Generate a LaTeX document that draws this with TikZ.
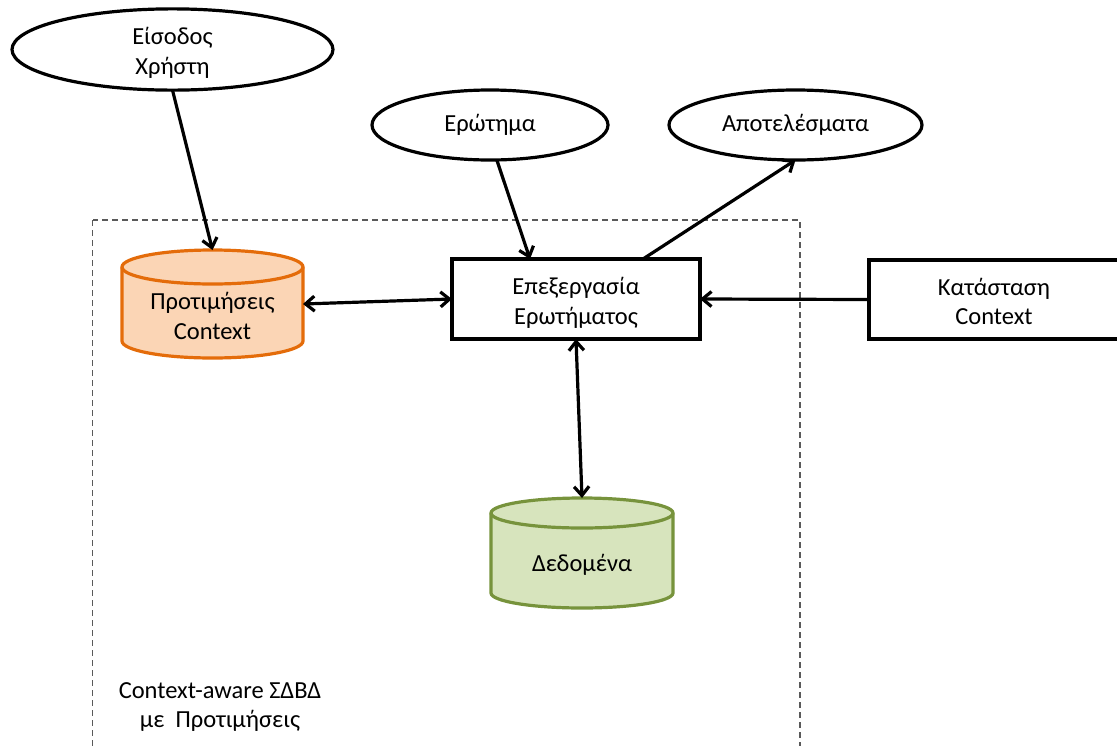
\documentclass[tikz,border=0pt]{standalone}
\usepackage{fontspec}
\setmainfont{Carlito}
\usetikzlibrary{shapes.geometric,arrows.meta,backgrounds}

\definecolor{prefline}{RGB}{228,108,10}
\definecolor{preffill}{RGB}{251,213,181}
\definecolor{dataline}{RGB}{119,147,60}
\definecolor{datafill}{RGB}{215,228,189}
\definecolor{frameline}{RGB}{89,89,89}

% invisible strut that adds room above the first text line
\newcommand\headroom[1]{\rule{0pt}{#1}}

% Database cylinder drawn inside the rectangle of a named node:
% #1 node, #2 fill, #3 line colour, #4 x radius, #5 y radius of the end ellipses
\newcommand\cylinderoutline[5]{%
  \path[fill=#2, draw=#3, line width=3.2pt]
    ([yshift=-#5pt]#1.north west) -- ([yshift=#5pt]#1.south west)
    arc[start angle=180, end angle=360, x radius=#4, y radius=#5]
    -- ([yshift=-#5pt]#1.north east)
    arc[start angle=0, end angle=180, x radius=#4, y radius=#5]
    -- cycle;
  \draw[#3, line width=3.2pt] ([yshift=-#5pt]#1.north west)
    arc[start angle=180, end angle=360, x radius=#4, y radius=#5];
}

\begin{document}
\begin{tikzpicture}[x=1pt, y=1pt,
  every node/.style={font=\fontsize{24.5}{29.5}\selectfont, align=center,
    inner sep=0pt, outer sep=0pt},
  oval/.style={ellipse, draw, line width=3.2pt, fill=white},
  procbox/.style={rectangle, draw, line width=3.2pt, fill=white},
  dbnode/.style={rectangle, draw=none},
  flow/.style={line width=3.2pt, -{Straight Barb[length=9pt, width=15pt]}},
  twoway/.style={line width=3.2pt,
    {Straight Barb[length=9pt, width=15pt]}-{Straight Barb[length=9pt, width=15pt]}},
  frame/.style={draw=frameline, line width=1.2pt, dash pattern=on 6pt off 4pt},
]
\useasboundingbox (0,0) rectangle (1117,-745);

% system boundary
\draw[frame] (92.5,-220) rectangle (800,-770);
\node (syslabel) at (220,-707) {Context-aware ΣΔΒΔ\\με\ \ Προτιμήσεις};

% inputs and outputs
\node[oval, minimum width=321, minimum height=79] (input) at (172.5,-49.5) {\headroom{24pt}Είσοδος\\Χρήστη};
\node[oval, minimum width=236, minimum height=70] (query) at (490,-125) {Ερώτημα};
\node[oval, minimum width=253, minimum height=70] (results) at (795.5,-125) {Αποτελέσματα};

% processing boxes
\node[procbox, minimum width=248, minimum height=80] (proc) at (576,-299) {\headroom{25pt}Επεξεργασία\\Ερωτήματος};
\node[procbox, minimum width=250, minimum height=79] (state) at (994,-299.5) {\headroom{21pt}Κατάσταση\\Context};

% stores
\node[dbnode, minimum width=181, minimum height=108,
  label={[yshift=-12pt]center:{Προτιμήσεις\\Context}}] (pref) at (212.5,-304) {};
\node[dbnode, minimum width=182, minimum height=110,
  label={[yshift=-12pt]center:{Δεδομένα}}] (data) at (582,-553) {};
\begin{pgfonlayer}{background}
  \cylinderoutline{pref}{preffill}{prefline}{90.5}{17}
  \cylinderoutline{data}{datafill}{dataline}{91}{15}
\end{pgfonlayer}

% connectors
\draw[flow] (input.south) -- (pref.north);
\draw[flow] (query.-79) -- ([xshift=-46pt]proc.north);
\draw[flow] ([xshift=67pt]proc.north) -- (results.south);
\draw[twoway] (pref.east) -- (proc.west);
\draw[twoway] (proc.south) -- (data.north);
\draw[flow] (state.west) -- (proc.east);
\end{tikzpicture}
\end{document}
